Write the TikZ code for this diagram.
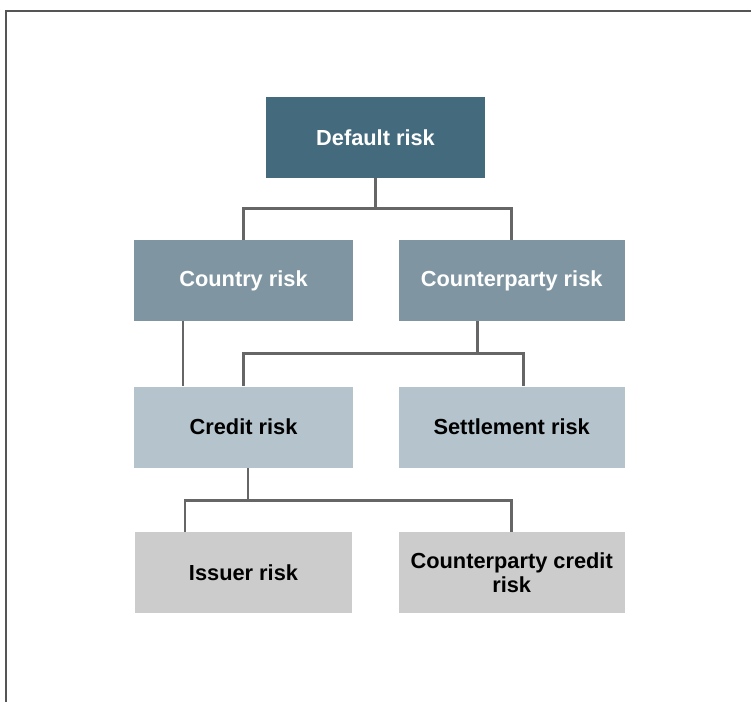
\documentclass[tikz,border=0pt]{standalone}
\usepackage{fontspec}
\setmainfont{Liberation Sans}
\usetikzlibrary{positioning,calc}
\definecolor{dk}{HTML}{446A7E}
\definecolor{md}{HTML}{7F96A2}
\definecolor{lb}{HTML}{B4C3CC}
\definecolor{gr}{HTML}{CCCCCC}
\definecolor{ln}{HTML}{666666}
\definecolor{fr}{HTML}{555555}
\tikzset{
  box/.style={rectangle,minimum width=4.38cm,minimum height=1.62cm,align=center,inner sep=2pt,
    font=\fontsize{12.4}{13.7}\selectfont\bfseries},
  wbox/.style={box,minimum width=4.52cm},
  dbox/.style={box,fill=dk,text=white},
  mbox/.style={fill=md,text=white},
  lbox/.style={fill=lb,text=black},
  gbox/.style={fill=gr,text=black},
  link/.style={draw=ln,line width=1.7pt},
}

\begin{document}
\begin{tikzpicture}
\useasboundingbox (0,0) rectangle (15.02,-14.04);
\draw[draw=fr,line width=1pt] (0.12,-14.04) |- (15.02,-0.22);
% boxes
\node[dbox] (dflt) at (7.51,-2.75) {Default risk};
\node[box,mbox] (ctry) at (4.87,-5.61) {Country risk};
\node[wbox,mbox,right=0.9cm of ctry] (cpty) {Counterparty risk};
\node[box,lbox,below=1.3cm of ctry] (cred) {Credit risk};
\node[wbox,lbox,below=1.3cm of cpty] (sett) {Settlement risk};
\node[box,gbox,below=1.28cm of cred,minimum width=4.34cm] (issr) {Issuer risk};
\node[wbox,gbox,below=1.28cm of sett] (ccr) {Counterparty credit\\risk};
% connectors
\draw[link] (dflt.south) -- ++(0,-0.6) coordinate (j1);
\draw[link] (j1) -| (ctry.north);
\draw[link] (j1) -| (cpty.north);
\draw[link] ([xshift=-1.21cm]ctry.south) -- ([xshift=-1.21cm]cred.north);
\draw[link] ([xshift=-0.68cm]cpty.south) -- ++(0,-0.64) coordinate (j2);
\draw[link] (j2) -| (cred.north);
\draw[link] (j2) -| ([xshift=0.24cm]sett.north);
\draw[link] ([xshift=0.09cm]cred.south) -- ++(0,-0.64) coordinate (j3);
\draw[link] (j3) -| ([xshift=-1.17cm]issr.north);
\draw[link] (j3) -| (ccr.north);
\end{tikzpicture}
\end{document}
